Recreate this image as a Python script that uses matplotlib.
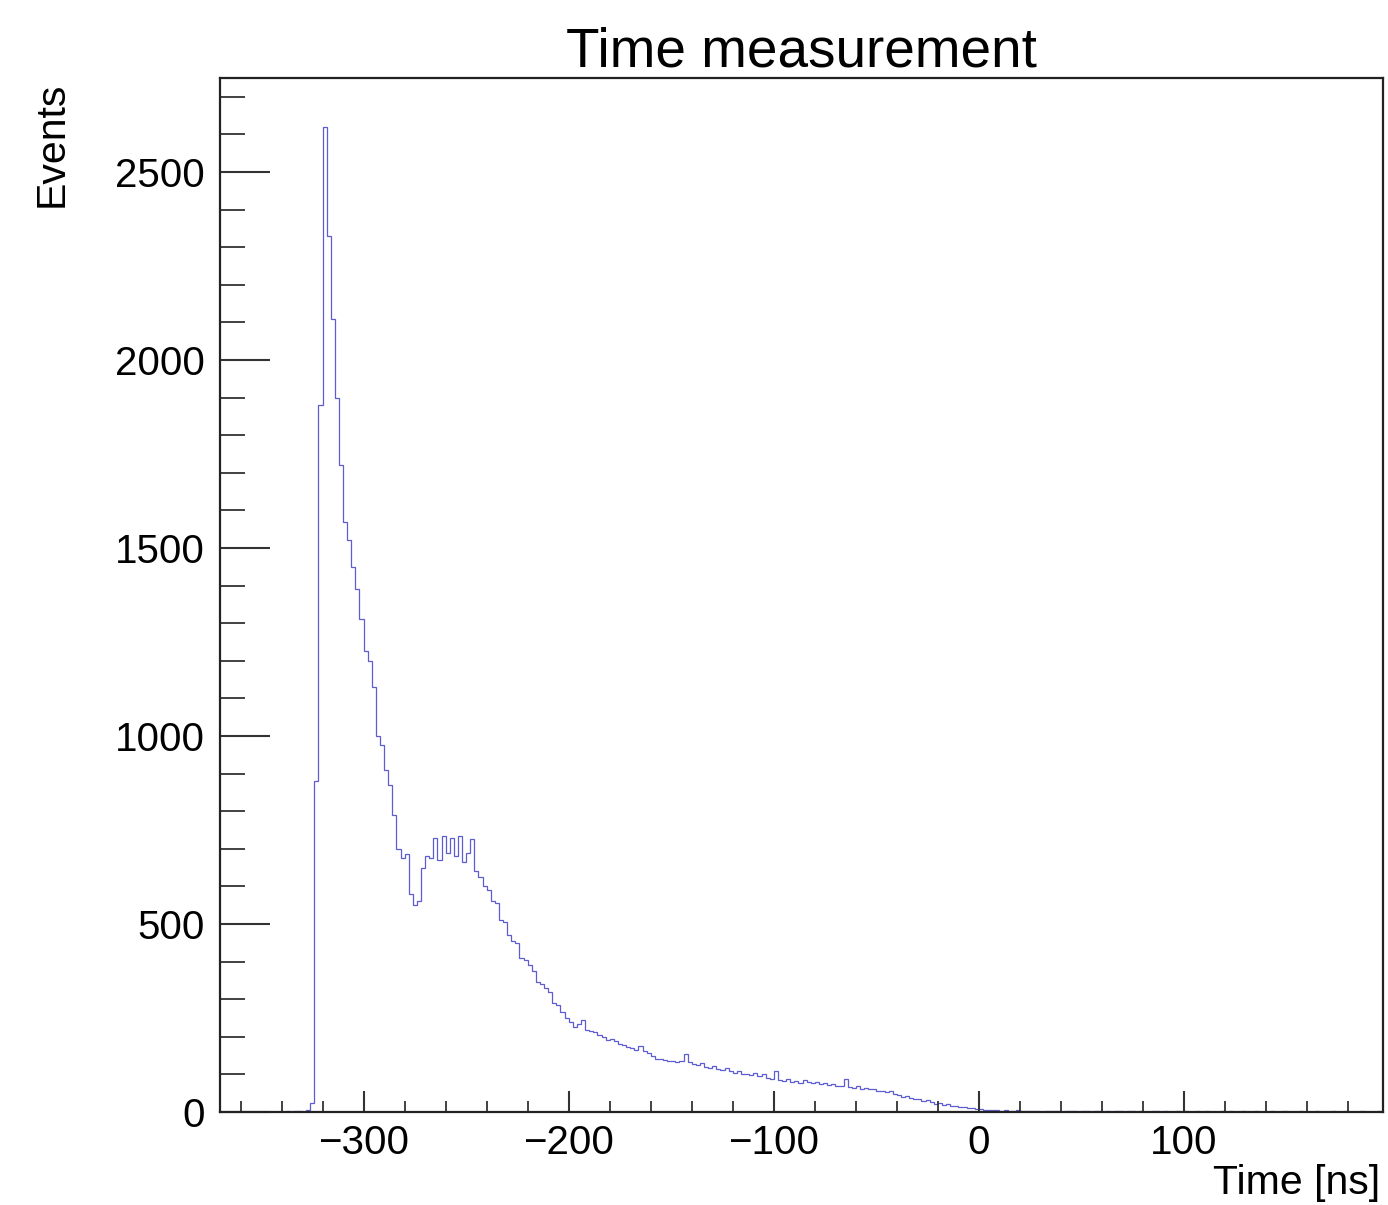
import numpy as np
import matplotlib
matplotlib.use("Agg")
import matplotlib.pyplot as plt
from matplotlib.ticker import MultipleLocator

plt.rcParams['font.family'] = ['Liberation Sans', 'DejaVu Sans']

title = "Time measurement"
xlabel = "Time [ns]"
ylabel = "Events"

bin_width = 2
x_start = -370

counts_pre = [0, 0, 0, 0, 0, 0, 0, 0, 0, 0, 0, 0, 0, 0, 0, 0, 2, 0, 3, 2, 0, 4]
counts_peak = [25, 880, 1880, 2620, 2330, 2110, 1900, 1720, 1570, 1520,
               1450, 1390, 1310, 1225, 1200, 1130, 1000, 975, 910, 870,
               790, 700, 675, 685, 580, 550, 560, 650, 680, 675,
               730, 670, 735, 690, 730, 680, 735, 665, 690, 725,
               640, 625, 600, 590, 560, 555, 510, 505, 470, 455,
               450, 410, 405, 390, 375, 345, 340, 330, 320, 290,
               285, 265, 250, 240, 226, 235, 245, 218, 215, 212,
               205, 200, 192, 195, 188, 180, 178, 172, 170, 165,
               175, 162, 158, 150]
counts_tail = [142, 140, 138, 135, 136, 132, 135, 155, 132, 128,
               125, 130, 120, 118, 122, 115, 112, 118, 110, 105,
               108, 102, 100, 98, 105, 95, 100, 90, 88, 108,
               85, 83, 88, 80, 82, 78, 85, 80, 76, 80,
               74, 78, 72, 75, 68, 70, 88, 66, 65, 68,
               62, 64, 60, 62, 56, 55, 52, 55, 48, 45,
               40, 42, 37, 35, 34, 30, 32, 26, 22, 24,
               18, 20, 15, 16, 12, 13, 10, 11, 8, 7,
               6, 5, 4, 5, 3, 4]
counts_post = [3, 2, 4, 2, 3, 2, 2, 3, 1, 2,
               3, 2, 2, 1, 3, 2, 2, 1, 2, 3,
               1, 2, 2, 1, 2, 1, 3, 2, 1, 2,
               2, 1, 2, 1, 1, 2, 3, 1, 2, 1,
               1, 2, 1, 2, 1, 1, 2, 1, 2, 1,
               1, 1, 2, 1, 2, 1, 1, 2, 1, 1,
               2, 1, 1, 1, 2, 1, 1, 2, 1, 1,
               1, 2, 1, 1, 1, 2, 1, 1, 1, 2,
               1, 1, 2, 1, 1, 1, 2, 1, 1, 1,
               2]

counts = np.array(counts_pre + counts_peak + counts_tail + counts_post, dtype=float)
edges = x_start + bin_width * np.arange(len(counts) + 1)

fig = plt.figure(figsize=(13.88, 12.05), dpi=100)
ax = fig.add_axes([220/1388, 1 - 1112/1205, (1383-220)/1388, (1112-78)/1205])

ax.stairs(counts, edges, color='#4b4bcc', linewidth=0.9, alpha=0.9, baseline=0)

ax.set_xlim(-370, 197)
ax.set_ylim(0, 2750)

ax.xaxis.set_major_locator(MultipleLocator(100))
ax.xaxis.set_minor_locator(MultipleLocator(20))
ax.yaxis.set_major_locator(MultipleLocator(500))
ax.yaxis.set_minor_locator(MultipleLocator(100))

ax.tick_params(axis='x', which='major', direction='in', length=15, width=1.5,
               labelsize=29, pad=9, color='#333333', top=False)
ax.tick_params(axis='x', which='minor', direction='in', length=8, width=1.3,
               color='#333333', top=False)
ax.tick_params(axis='y', which='major', direction='in', length=36, width=1.5,
               labelsize=29, pad=11, color='#333333', right=False)
ax.tick_params(axis='y', which='minor', direction='in', length=18, width=1.3,
               color='#333333', right=False)

for s in ax.spines.values():
    s.set_linewidth(1.6)
    s.set_color('#222222')

ax.set_title(title, fontsize=39.5, pad=7)
ax.set_xlabel(xlabel, fontsize=29.5, ha='right', va='center')
ax.xaxis.set_label_coords((1380-220)/1163, (1112-1183)/1034)
ax.set_ylabel(ylabel, fontsize=29.5, ha='right', va='center')
ax.yaxis.set_label_coords((52-220)/1163, (1112-82)/1034)

fig.savefig("out.png", dpi=100)
